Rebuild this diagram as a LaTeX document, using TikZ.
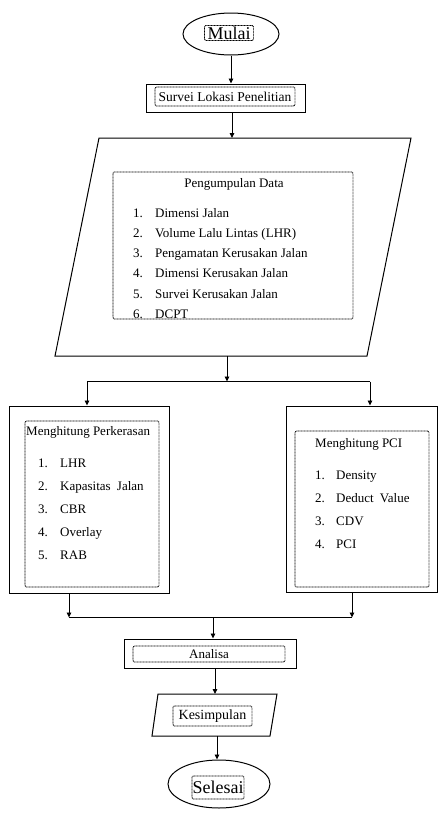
\documentclass[tikz,border=0pt]{standalone}
\usepackage{fontspec}
\setmainfont{Liberation Serif}
\usetikzlibrary{arrows.meta,shapes.geometric}
\begin{document}
\begin{tikzpicture}[x=1pt,y=-1pt,
  outer/.style={draw,line width=1pt},
  outbox/.style={outer,rectangle,inner sep=0pt},
  outell/.style={outer,ellipse,inner sep=0pt},
  dotbox/.style={draw,line width=0.8pt,dash pattern=on 0.9pt off 0.6pt,rounded corners=1.2pt,inner sep=0pt},
  conn/.style={line width=0.9pt},
  arr/.style={conn,-{Triangle[length=5pt,width=4.5pt]}},
  txt/.style={font=\fontsize{13}{15}\selectfont,inner sep=0pt},
  item/.style={txt,anchor=base west},
  big/.style={font=\fontsize{18}{20}\selectfont,inner sep=0pt}
]
\useasboundingbox (0,0) rectangle (438,814);

% Mulai
\node[outell,minimum width=96pt,minimum height=42pt] (mulai) at (231,34) {};
\node[dotbox,big,minimum width=49pt,minimum height=15pt] (mulaiT) at (229,33) {Mulai};

% Survei
\node[outbox,minimum width=159pt,minimum height=28pt] (survei) at (225.5,98) {};
\node[dotbox,txt,font=\fontsize{13.5}{15}\selectfont,minimum width=140pt,minimum height=19pt] (surveiT) at (225,96.5) {Survei Lokasi Penelitian};

% Pengumpulan data parallelogram
\coordinate (pTL) at (99,138);
\coordinate (pTR) at (411,138);
\coordinate (pBR) at (367,356);
\coordinate (pBL) at (55,356);
\draw[outer,line join=miter] (pTL) -- (pTR) -- (pBR) -- (pBL) -- cycle;
\coordinate (pTop) at (232,138);
\coordinate (pBot) at (227,356);
\node[dotbox,minimum width=240pt,minimum height=147pt] (pInner) at (233,245.5) {};
\node[txt,anchor=base] (pTitle) at (234,187) {Pengumpulan Data};
\node[item] (pn1) at (133,217) {1.};\node[item] (pi1) at (155,217) {Dimensi Jalan};
\node[item] (pn2) at (133,237) {2.};\node[item] (pi2) at (155,237) {Volume Lalu Lintas (LHR)};
\node[item] (pn3) at (133,257) {3.};\node[item] (pi3) at (155,257) {Pengamatan Kerusakan Jalan};
\node[item] (pn4) at (133,277) {4.};\node[item] (pi4) at (155,277) {Dimensi Kerusakan Jalan};
\node[item] (pn5) at (133,298) {5.};\node[item] (pi5) at (155,298) {Survei Kerusakan Jalan};
\node[item] (pn6) at (133,318.5) {6.};\node[item] (pi6) at (155,318.5) {DCPT};

% split
\coordinate (j1) at (227,381.5);
\coordinate (jl) at (87,381.5);
\coordinate (jr) at (370,381.5);

% Left box
\node[outbox,minimum width=160pt,minimum height=187pt] (lbox) at (89,499.5) {};
\node[dotbox,minimum width=134pt,minimum height=166pt] (lInner) at (92,504) {};
\node[txt,anchor=base west] (lTitle) at (26,435) {Menghitung Perkerasan};
\node[item] (ln1) at (38,467) {1.};\node[item] (li1) at (60,467) {LHR};
\node[item] (ln2) at (38,490) {2.};\node[item] (li2) at (60,490) {Kapasitas\hspace{3pt} Jalan};
\node[item] (ln3) at (38,513) {3.};\node[item] (li3) at (60,513) {CBR};
\node[item] (ln4) at (38,536) {4.};\node[item] (li4) at (60,536) {Overlay};
\node[item] (ln5) at (38,559) {5.};\node[item] (li5) at (60,559) {RAB};

% Right box
\node[outbox,minimum width=151pt,minimum height=186pt] (rbox) at (361.5,499) {};
\node[dotbox,minimum width=134pt,minimum height=156pt] (rInner) at (362,509) {};
\node[txt,anchor=base west] (rTitle) at (315,447) {Menghitung PCI};
\node[item] (rn1) at (315,479) {1.};\node[item] (ri1) at (336,479) {Density};
\node[item] (rn2) at (315,502) {2.};\node[item] (ri2) at (336,502) {Deduct\hspace{3pt} Value};
\node[item] (rn3) at (315,525) {3.};\node[item] (ri3) at (336,525) {CDV};
\node[item] (rn4) at (315,548) {4.};\node[item] (ri4) at (336,548) {PCI};

% merge
\coordinate (ml) at (69,617.5);
\coordinate (mr) at (352,617.5);
\coordinate (mm) at (213,617.5);

% Analisa
\node[outbox,minimum width=172pt,minimum height=29pt] (analisa) at (210,653.5) {};
\node[dotbox,txt,minimum width=152pt,minimum height=16pt] (analisaT) at (209,654) {Analisa};

% Kesimpulan parallelogram
\coordinate (kTL) at (158,694);
\coordinate (kTR) at (277,694);
\coordinate (kBR) at (270,736);
\coordinate (kBL) at (152,736);
\draw[outer,line join=miter] (kTL) -- (kTR) -- (kBR) -- (kBL) -- cycle;
\coordinate (kTop) at (215,694);
\coordinate (kBot) at (217,736);
\node[dotbox,txt,font=\fontsize{14}{16}\selectfont,minimum width=79pt,minimum height=20pt] (kesT) at (212.5,716) {Kesimpulan};

% Selesai
\node[outell,minimum width=102pt,minimum height=48pt] (selesai) at (219,784) {};
\node[dotbox,big,minimum width=52pt,minimum height=23pt] (selesaiT) at (218,787.5) {Selesai};

% connectors
\draw[arr] (mulai.south) -- (mulai.south |- survei.north);
\draw[arr] (pTop |- survei.south) -- (pTop);
\draw[arr] (pBot) -- (j1);
\draw[conn] (jl) -- (jr);
\draw[arr] (jl) -- (jl |- lbox.north);
\draw[arr] (jr) -- (jr |- rbox.north);
\draw[arr] (ml |- lbox.south) -- (ml);
\draw[arr] (mr |- rbox.south) -- (mr);
\draw[conn] (ml) -- (mr);
\draw[arr] (mm) -- (mm |- analisa.north);
\draw[arr] (kTop |- analisa.south) -- (kTop);
\draw[arr] (kBot) -- (kBot |- selesai.north);
\end{tikzpicture}
\end{document}
